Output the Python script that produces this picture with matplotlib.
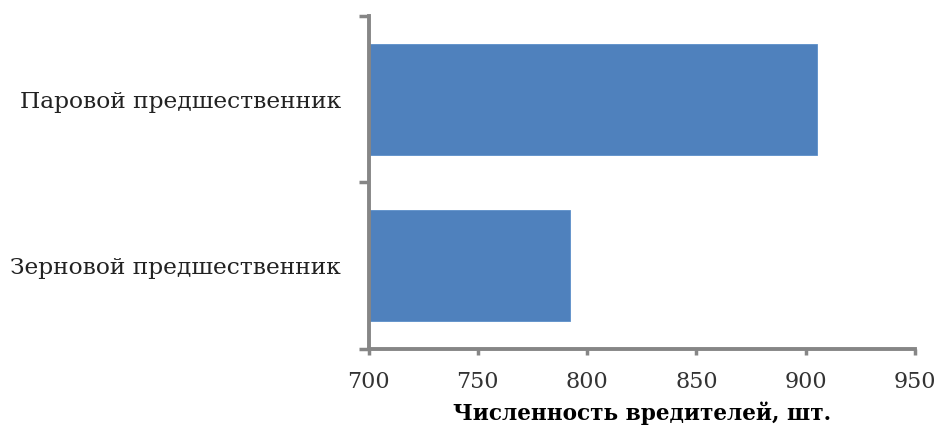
import matplotlib
matplotlib.use("Agg")
import matplotlib.pyplot as plt

categories = ["Зерновой предшественник", "Паровой предшественник"]
values = [792, 905]
x_ticks = [700, 750, 800, 850, 900, 950]
x_label = "Численность вредителей, шт."

plt.rcParams['font.family'] = ['DejaVu Serif']

def main():
    fig = plt.figure(figsize=(9.36, 4.28), dpi=100)
    ax = fig.add_axes([0.3937, 0.1857, 0.9776 - 0.3937, 0.9626 - 0.1857])

    ypos = list(range(len(categories)))
    ax.barh(ypos, [v - 700 for v in values], left=700, height=0.667,
            color='#4f81bd', edgecolor='#5b8ec9', linewidth=0.6)

    ax.set_xlim(700, 950)
    ax.set_ylim(-0.5, len(categories) - 0.5)

    ax.set_xticks(x_ticks)
    ax.set_xticklabels([str(t) for t in x_ticks], fontsize=16, color='#333333')
    ax.set_yticks(ypos)
    ax.set_yticklabels(categories, fontsize=16.8, color='#222222')
    # category boundaries get the tick marks, like in Excel
    ax.set_yticks([-0.5, 0.5, 1.5], minor=True)
    ax.tick_params(axis='y', which='major', length=0, pad=20)
    ax.tick_params(axis='y', which='minor', length=7, width=2.5, color='#868686')
    ax.tick_params(axis='x', length=4.5, width=2.5, color='#868686', pad=12)

    for s in ['top', 'right']:
        ax.spines[s].set_visible(False)
    for s in ['left', 'bottom']:
        ax.spines[s].set_color('#868686')
        ax.spines[s].set_linewidth(2.8)

    ax.set_xlabel(x_label, fontsize=15.6, fontweight='bold', labelpad=6)

    fig.savefig("out.png", dpi=100)


if __name__ == "__main__":
    main()
